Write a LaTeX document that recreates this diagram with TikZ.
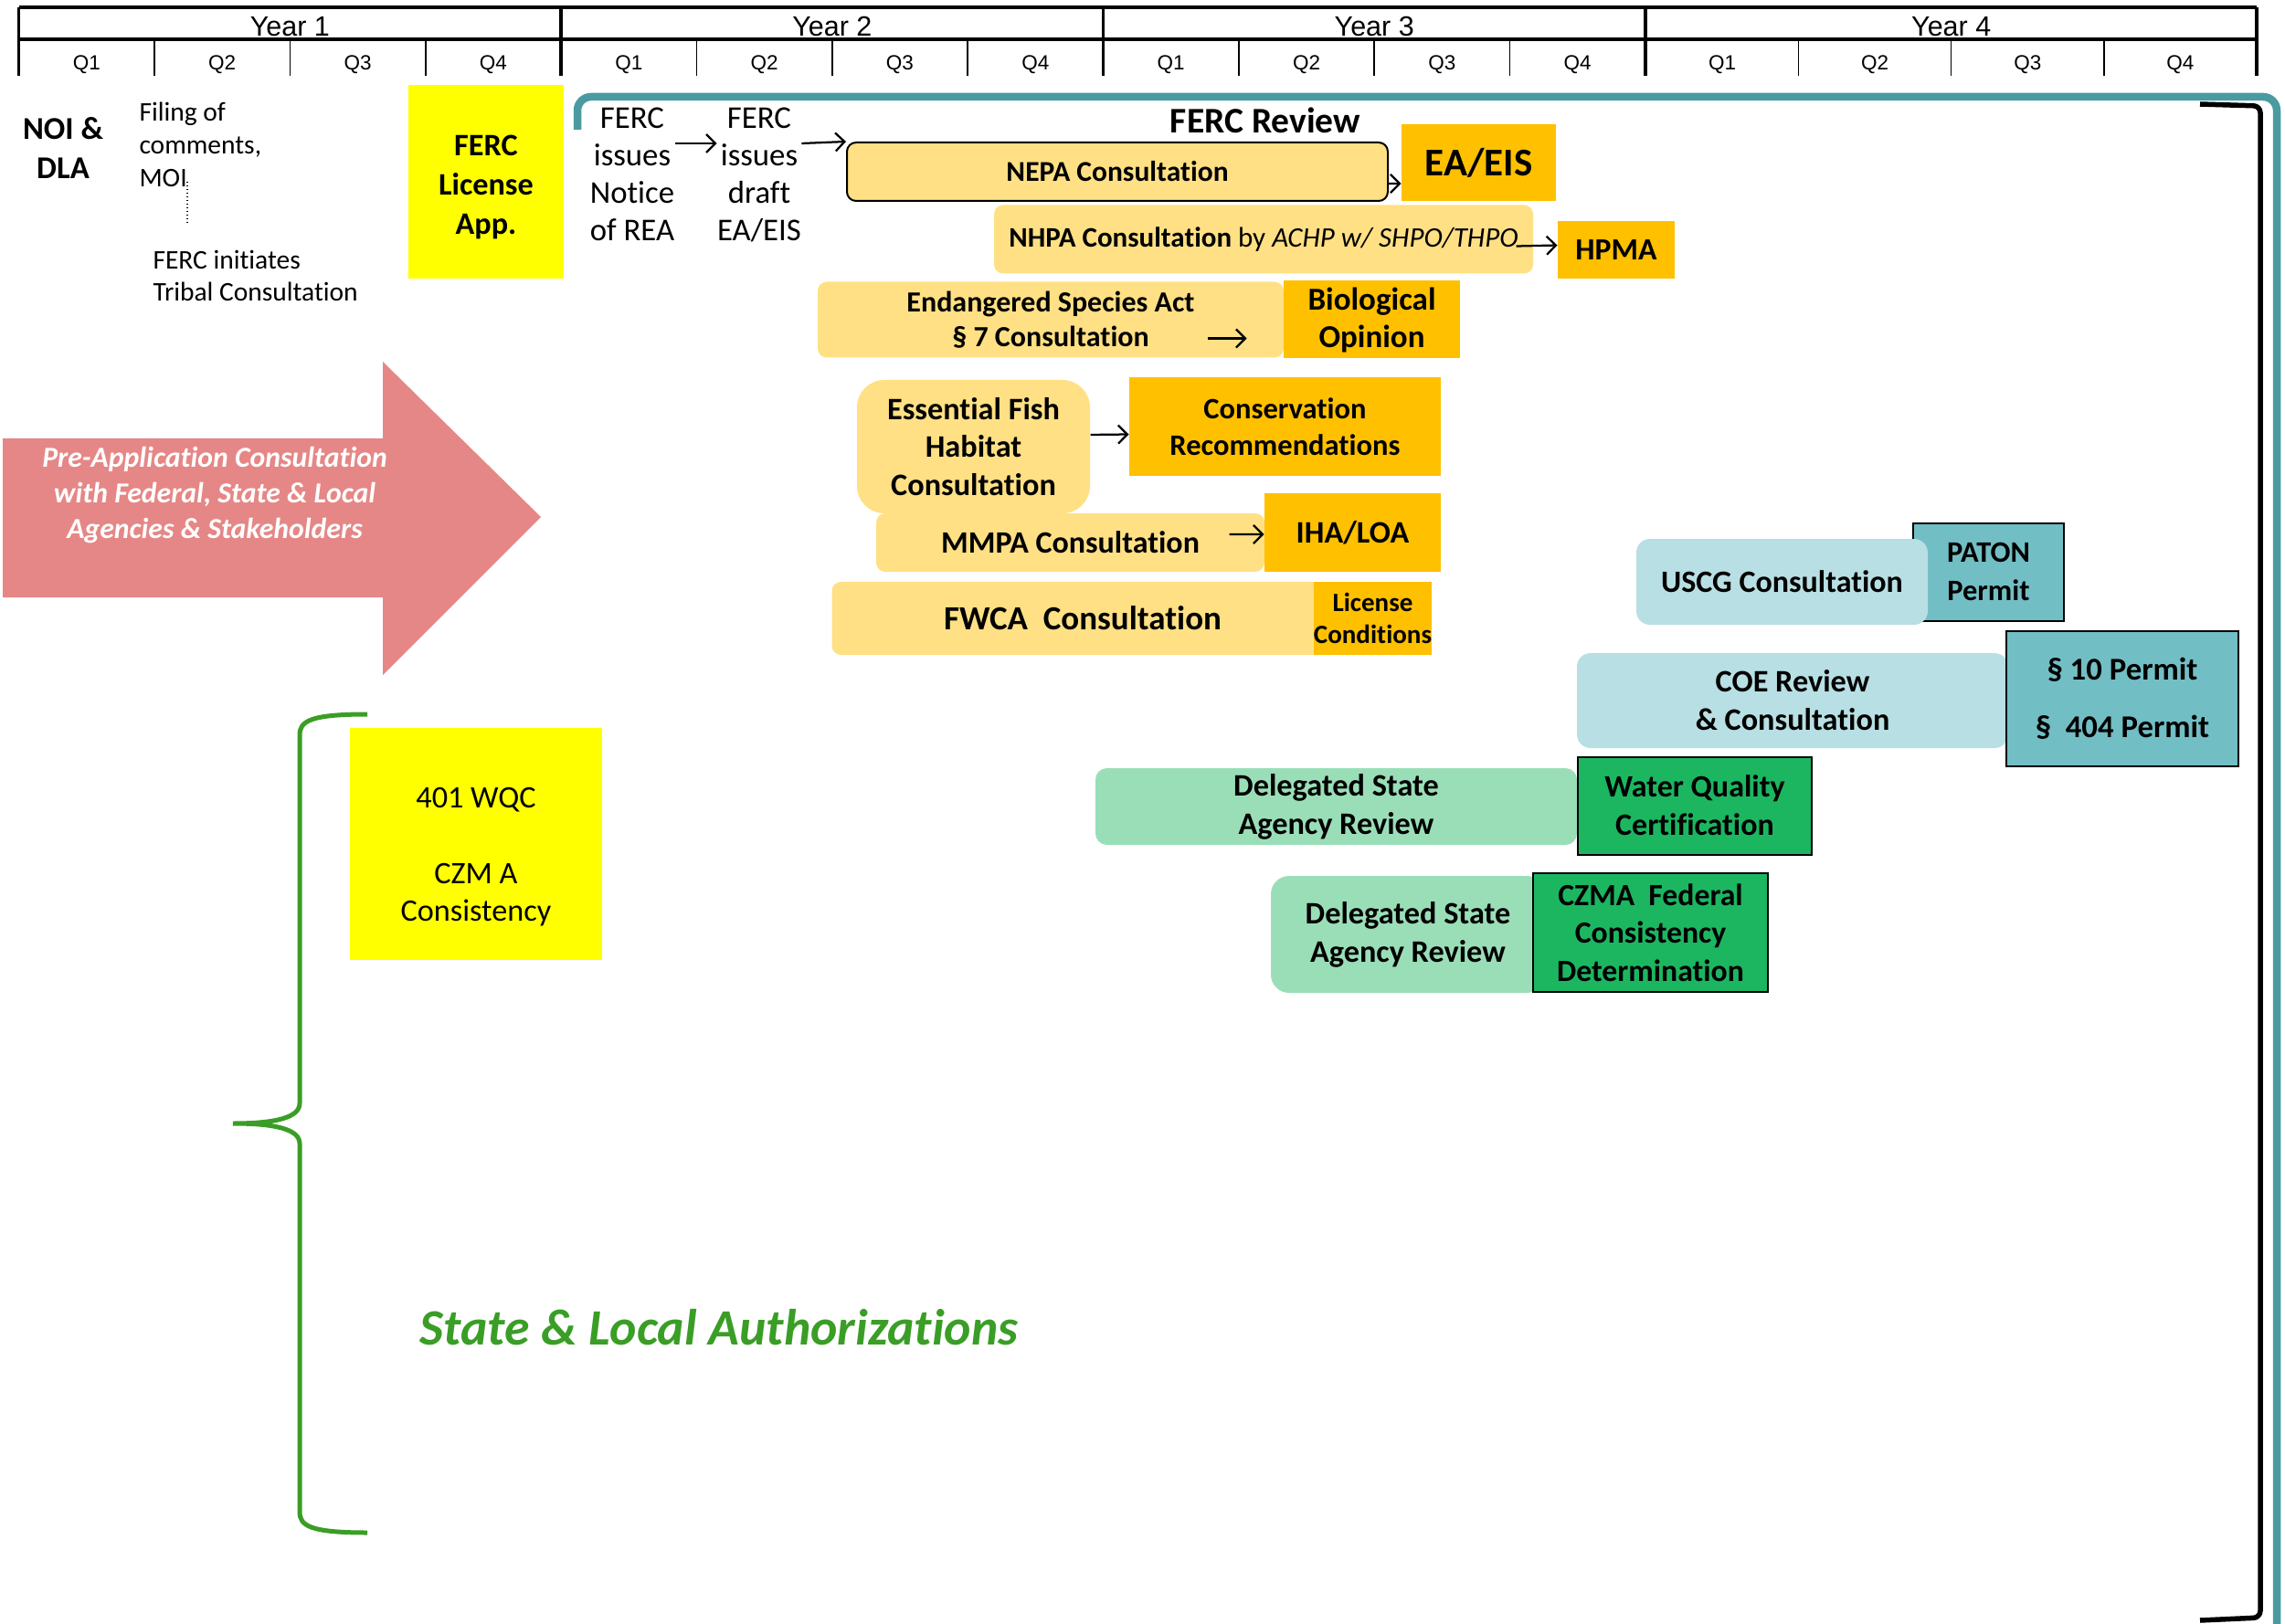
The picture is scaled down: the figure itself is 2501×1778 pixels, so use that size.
\documentclass[tikz,border=0pt]{standalone}
\usepackage{fontspec}
\setmainfont[Ligatures=NoCommon]{Carlito}
\newfontfamily\hdrfont{Liberation Sans}
\usetikzlibrary{arrows.meta,calc}

\definecolor{lightgold}{HTML}{FFE084}
\definecolor{gold}{HTML}{FFC000}
\definecolor{brightyel}{HTML}{FFFF00}
\definecolor{lightaqua}{HTML}{B8DFE3}
\definecolor{aqua}{HTML}{72BEC5}
\definecolor{lightgrn}{HTML}{9ADEB8}
\definecolor{grn}{HTML}{1CB661}
\definecolor{salmon}{HTML}{E58786}
\definecolor{bracegrn}{HTML}{3A9E26}
\definecolor{frameteal}{HTML}{4A9AA1}

\begin{document}
\begin{tikzpicture}[x=0.4pt,y=-0.4pt,
    every node/.style={inner sep=0pt},
    yrlbl/.style={font=\hdrfont\fontsize{12.2}{13}\selectfont},
    qlbl/.style={font=\hdrfont\fontsize{9}{10}\selectfont},
    consult/.style={fill=lightgold,rounded corners=4pt,align=center},
    outcome/.style={fill=gold,align=center},
    uscg/.style={fill=lightaqua,rounded corners=6pt,align=center},
    permit/.style={fill=aqua,draw=black,line width=0.8pt,align=center},
    state/.style={fill=lightgrn,rounded corners=5pt,align=center},
    cert/.style={fill=grn,draw=black,line width=0.8pt,align=center},
    arr/.style={-{Straight Barb[length=4pt,width=8pt]},line width=0.9pt}]
    \useasboundingbox (0,0) rectangle (2501,1778);

    % time line
    \draw[line width=1.3pt] (20.7,8) -- (2470,8);
    \draw[line width=1.3pt] (20.7,43) -- (2470,43);
    \foreach \q in {0,...,16}{
        \pgfmathsetmacro\xq{(\q<=12)*(20.7+148.35*\q)+(\q>12)*(1801.5+167.1*(\q-12))}
        \pgfmathtruncatemacro\isyr{mod(\q,4)==0}
        \ifnum\isyr=1
            \draw[line width=1.3pt] (\xq,8) -- (\xq,83);
        \else
            \draw[line width=0.6pt] (\xq,43) -- (\xq,83);
        \fi
    }
    \foreach \yr/\xc in {1/317.4,2/910.8,3/1504.2,4/2135.7}
        \node[yrlbl] (year\yr) at (\xc,29) {Year \yr};
    \foreach \q in {0,...,15}{
        \pgfmathsetmacro\xl{(\q<12)*(20.7+148.35*(\q+0.5))+(\q>11)*(1801.5+167.1*(\q-11.5))}
        \pgfmathtruncatemacro\qn{mod(\q,4)+1}
        \node[qlbl] (q\q) at (\xl,71) {Q\qn};
    }

    % pre-filing
    \node[align=center,font=\bfseries\fontsize{13.9}{17.2}\selectfont] (noi) at (69,162) {NOI \&\\DLA};
    \node[anchor=west,align=left,font=\fontsize{11.8}{14.4}\selectfont] (filing) at (152,158) {Filing of\\comments,\\MOI};
    \node[anchor=west,align=left,font=\fontsize{11.8}{14}\selectfont] (tribal) at (167,302) {FERC initiates\\Tribal Consultation};
    \coordinate (moi) at (205,199);
    \draw[densely dotted,line width=0.6pt] (moi) -- (205,247);
    \node[fill=brightyel,minimum width=68pt,minimum height=84.8pt] (lic) at (532,199) {};
    \node[align=center,font=\bfseries\fontsize{13.7}{17.2}\selectfont] (lictxt) at (532,205) {FERC\\License\\App.};

    % pre-application arrow
    \fill[salmon] (3,480) -- (419,480) -- (419,396) -- (592,566) -- (419,739) -- (419,654) -- (3,654) -- cycle;
    \node[align=center,text=white,font=\bfseries\itshape\fontsize{12.7}{15.6}\selectfont] (pre) at (235,542)
        {Pre-Application Consultation\\with Federal, State \& Local\\Agencies \& Stakeholders};

    % FERC review frame
    \draw[frameteal,line width=3.4pt,rounded corners=6pt] (632,142) -- (632,106) -- (2492,106) -- (2492,1778);
    \draw[line width=2.2pt,rounded corners=3pt] (2408,114) -- (2474,116) -- (2474,1771) -- (2408,1774);
    \node[font=\bfseries\fontsize{15.8}{18}\selectfont] (review) at (1385,132) {FERC Review};

    \node[align=center,font=\fontsize{13.9}{16.4}\selectfont] (rea) at (692,191) {FERC\\issues\\Notice\\of REA};
    \node[align=center,font=\fontsize{13.9}{16.4}\selectfont] (draft) at (831,191) {FERC\\issues\\draft\\EA/EIS};

    \node[consult,draw=black,line width=0.8pt,minimum width=236.8pt,minimum height=25.6pt,
        font=\bfseries\fontsize{12.6}{15}\selectfont] (nepa) at (1223,188) {NEPA Consultation};
    \node[outcome,minimum width=67.6pt,minimum height=33.6pt,
        font=\bfseries\fontsize{17.2}{20}\selectfont] (eaeis) at (1618.5,178) {EA/EIS};
    \node[consult,minimum width=236pt,minimum height=30pt,
        font=\bfseries\fontsize{12.4}{15}\selectfont] (nhpa) at (1383,262)
        {NHPA Consultation \mdseries by \itshape ACHP w/ SHPO/THPO};
    \node[outcome,minimum width=51.2pt,minimum height=25.2pt,
        font=\bfseries\fontsize{13.5}{16}\selectfont] (hpma) at (1769,274) {HPMA};

    \node[consult,minimum width=204pt,minimum height=33.2pt,
        font=\bfseries\fontsize{12.8}{15.2}\selectfont] (esa) at (1150,350) {Endangered Species Act\\§ 7 Consultation};
    \node[outcome,minimum width=77.2pt,minimum height=34pt,
        font=\bfseries\fontsize{14}{16.4}\selectfont] (biol) at (1501.5,350) {Biological\\Opinion};

    \node[consult,rounded corners=12pt,minimum width=102pt,minimum height=58.4pt,
        font=\bfseries\fontsize{13.7}{16.6}\selectfont] (efh) at (1065.5,489) {Essential Fish\\Habitat\\Consultation};
    \node[outcome,minimum width=136.4pt,minimum height=42.8pt,
        font=\bfseries\fontsize{13}{16}\selectfont] (consrec) at (1406.5,467) {Conservation\\Recommendations};

    \node[consult,minimum width=170pt,minimum height=25.6pt,
        font=\bfseries\fontsize{13.6}{16}\selectfont] (mmpa) at (1171.5,594) {MMPA Consultation};
    \node[outcome,minimum width=77.2pt,minimum height=34.4pt,
        font=\bfseries\fontsize{13.7}{16}\selectfont] (iha) at (1480.5,583) {IHA/LOA};

    \node[consult,minimum width=219.6pt,minimum height=32pt,
        font=\bfseries\fontsize{14.8}{17}\selectfont] (fwca) at (1185,677) {FWCA\ \ Consultation};
    \node[outcome,minimum width=50.8pt,minimum height=32pt,
        font=\bfseries\fontsize{11.6}{14.2}\selectfont] (lcond) at (1502.5,677) {License\\Conditions};

    \draw[arr] ([yshift=13.6pt]rea.east) -- ([yshift=13.6pt]draft.west);
    \draw[arr] ([yshift=13.6pt]draft.east) -- (nepa.north west);
    \draw[arr] ([yshift=-5.2pt]nepa.east) -- ([yshift=-9.2pt]eaeis.west);
    \draw[arr] ([xshift=-7.6pt,yshift=-3pt]nhpa.east) -- ([yshift=2.2pt]hpma.west);
    \draw[arr] ([xshift=-33.6pt,yshift=-8.2pt]esa.east) -- ([xshift=-16.4pt,yshift=-8.2pt]esa.east);
    \draw[arr] ([yshift=5.2pt]efh.east) -- ([yshift=-3.4pt]consrec.west);
    \draw[arr] ([xshift=-15.6pt,yshift=3.6pt]mmpa.east) -- ([yshift=-0.8pt]iha.west);

    % coast guard and corps
    \node[permit,minimum width=66pt,minimum height=42.8pt,
        font=\bfseries\fontsize{13}{16.8}\selectfont] (paton) at (2176.5,626) {PATON\\Permit};
    \node[uscg,minimum width=127.6pt,minimum height=37.6pt,
        font=\bfseries\fontsize{13.6}{16}\selectfont] (uscgc) at (1950.5,637) {USCG Consultation};
    \node[uscg,minimum width=188.8pt,minimum height=41.6pt,
        font=\bfseries\fontsize{13.7}{16.8}\selectfont] (coe) at (1962,767) {COE Review\\\& Consultation};
    \node[permit,minimum width=101.6pt,minimum height=59.2pt,
        font=\bfseries\fontsize{13.9}{25}\selectfont] (sec) at (2323,765) {§ 10 Permit\\§\ \ 404 Permit};

    % state reviews
    \node[state,minimum width=210.8pt,minimum height=33.6pt,
        font=\bfseries\fontsize{13.7}{16.8}\selectfont] (dsar) at (1462.5,883) {Delegated State\\Agency Review};
    \node[cert,minimum width=102.4pt,minimum height=42.8pt,
        font=\bfseries\fontsize{13.6}{16.8}\selectfont] (wqcert) at (1855,882) {Water Quality\\Certification};
    \node[state,rounded corners=8pt,minimum width=120pt,minimum height=51.2pt,
        font=\bfseries\fontsize{13.7}{16.8}\selectfont] (dsarb) at (1541,1023) {Delegated State\\Agency Review};
    \node[cert,minimum width=102.8pt,minimum height=52pt,
        font=\bfseries\fontsize{13.5}{16.6}\selectfont] (czma) at (1806.5,1021) {CZMA\ \ Federal\\Consistency\\Determination};

    % state and local
    \node[fill=brightyel,minimum width=110.4pt,minimum height=101.6pt] (wqc) at (521,924) {};
    \node[align=center,font=\fontsize{13.7}{16.6}\selectfont] (wqctxt) at (521,938) {401 WQC\\[16.6pt]CZM A\\Consistency};
    \draw[bracegrn,line width=2pt] (402,782) .. controls (338,782) and (328,790) .. (328,805) -- (328,1208)
        .. controls (328,1224) and (300,1230) .. (255,1230) .. controls (300,1230) and (328,1236) .. (328,1252)
        -- (328,1655) .. controls (328,1670) and (338,1678) .. (402,1678);
    \node[anchor=west,text=bracegrn,font=\bfseries\itshape\fontsize{22.3}{26}\selectfont] (auth) at (459,1453)
        {State \& Local Authorizations};
\end{tikzpicture}
\end{document}
